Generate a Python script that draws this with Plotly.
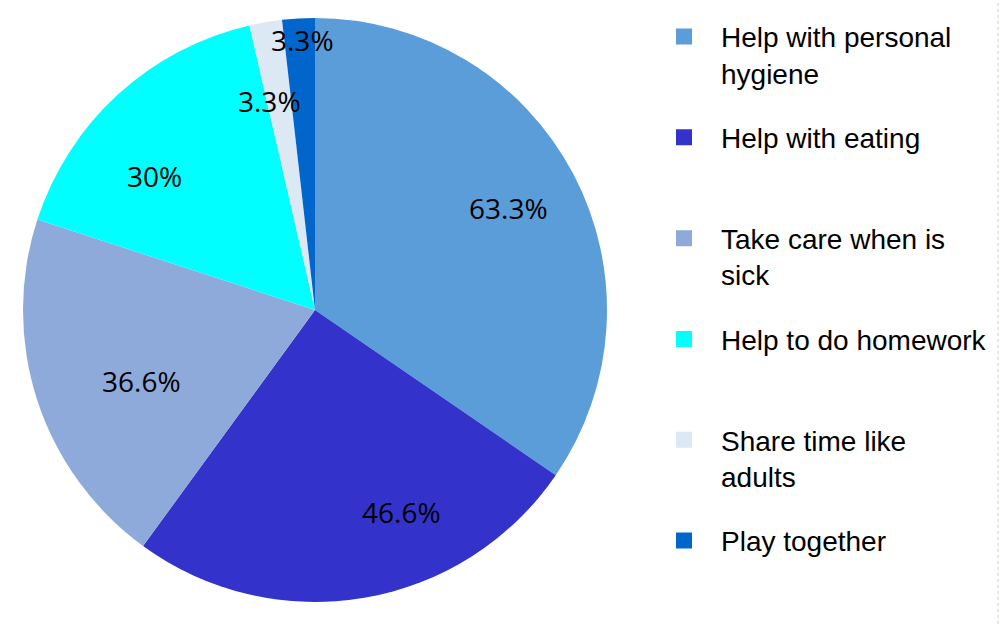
import math
import plotly.graph_objects as go

categories = ["Help with personal hygiene", "Help with eating", "Take care when is sick",
              "Help to do homework", "Share time like adults", "Play together"]
legend_labels = ["Help with personal<br>hygiene", "Help with eating<br> ", "Take care when is<br>sick",
                 "Help to do homework<br> ", "Share time like<br>adults", "Play together<br> "]
values = [63.3, 46.6, 36.6, 30.0, 3.3, 3.3]
value_labels = ["63.3%", "46.6%", "36.6%", "30%", "3.3%", "3.3%"]
colors = ["#5b9dd9", "#3333cc", "#8eaadb", "#00ffff", "#dde8f5", "#0066cc"]

# label placement styling (fraction of radius, angular nudge in degrees)
label_rfrac = [0.749, 0.752, 0.643, 0.717, 0.732, 0.926]
label_dang = [0.0, -13.4, -4.3, -7.7, -2.5, 0.7]

W, H = 1000, 624
dom_x = [23 / W, 607 / W]
dom_y = [1 - 602 / H, 1 - 18 / H]

fig = go.Figure()
fig.add_trace(go.Pie(
    labels=categories,
    values=values,
    textinfo="none",
    marker=dict(colors=colors, line=dict(width=0)),
    sort=False,
    direction="clockwise",
    rotation=0,
    showlegend=False,
    domain=dict(x=dom_x, y=dom_y),
))

# legend entries
for i, (lab, col) in enumerate(zip(legend_labels, colors)):
    fig.add_trace(go.Scatter(
        x=[None], y=[None], mode="markers", name=lab,
        marker=dict(symbol="square", size=18, color=col),
        legendgroup=f"g{i}", showlegend=True, hoverinfo="skip",
    ))

# percentage labels positioned from the pie geometry
cx = (dom_x[0] + dom_x[1]) / 2 * W
cy = (1 - (dom_y[0] + dom_y[1]) / 2) * H
R = (dom_x[1] - dom_x[0]) * W / 2
total = sum(values)
cum = 0.0
annotations = []
for v, txt, rf, da in zip(values, value_labels, label_rfrac, label_dang):
    mid = (cum + v / 2) / total * 360 + da
    cum += v
    px = cx + rf * R * math.sin(math.radians(mid))
    py = cy - rf * R * math.cos(math.radians(mid))
    annotations.append(dict(
        x=px / W, y=1 - py / H, xref="paper", yref="paper",
        text=txt, showarrow=False, xanchor="center", yanchor="middle",
        font=dict(family="Open Sans", size=28, color="black"),
    ))

fig.update_layout(
    width=W, height=H,
    margin=dict(l=0, r=0, t=0, b=0),
    paper_bgcolor="white",
    plot_bgcolor="white",
    xaxis=dict(visible=False),
    yaxis=dict(visible=False),
    showlegend=True,
    annotations=annotations,
    legend=dict(
        x=0.647, y=0.981, xanchor="left", yanchor="top",
        font=dict(family="Liberation Sans, Arial", size=28, color="black"),
        valign="top",
        itemwidth=64,
        tracegroupgap=25,
        bgcolor="rgba(0,0,0,0)",
    ),
    shapes=[dict(type="line", xref="paper", yref="paper", x0=0.998, x1=0.998, y0=0, y1=1,
                 line=dict(color="#e8c9a0", width=1, dash="dot"))],
)

fig.write_html("out.html")
